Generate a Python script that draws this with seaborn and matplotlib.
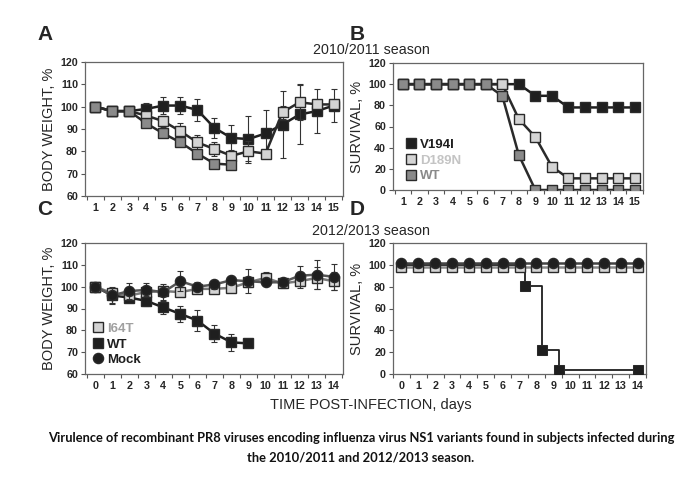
import matplotlib
matplotlib.use("Agg")
import matplotlib.pyplot as plt
import seaborn as sns
from matplotlib.lines import Line2D

# ---------------- data ----------------
days_a = list(range(1, 16))
bw_v194i = [100, 98, 98, 99, 100.5, 100.5, 98.5, 90.5, 86, 85.5, 88, 92, 96.5, 98, 100.5]
bw_v194i_err = [0.5, 1, 1, 2.5, 4, 4, 5, 4.5, 6, 10.5, 10.5, 15, 13, 10, 7.5]
bw_d189n = [100, 98, 98, 96, 93.5, 89, 84, 81, 78, 80, 79, 97.5, 102, 101, 101]
bw_d189n_err = [0.5, 1, 1, 2, 2.5, 3.5, 3.5, 3, 2.5, 4.5, 1.5, 3, 8, 2, 2]
days_a_wt = list(range(1, 10))
bw_wt_a = [100, 98, 98, 92.5, 88, 84, 79, 74.5, 74]
bw_wt_a_err = [0.5, 1, 1, 1.5, 1.5, 1.5, 1.5, 1.5, 1.5]

surv_v194i = [100, 100, 100, 100, 100, 100, 100, 100, 89, 89, 78, 78, 78, 78, 78]
surv_d189n = [100, 100, 100, 100, 100, 100, 100, 67, 50, 22, 11, 11, 11, 11, 11]
surv_wt_b = [100, 100, 100, 100, 100, 100, 89, 33, 0, 0, 0, 0, 0, 0, 0]

days_c = list(range(0, 15))
bw_i64t = [100, 97, 96, 97.5, 98, 97.5, 99, 99, 99.5, 102, 104, 101.5, 102.5, 104, 102.5]
bw_i64t_err = [1, 2, 2, 2, 2, 2, 2, 2, 2, 2, 2.5, 2, 3, 5, 4]
bw_mock = [100, 96, 98, 98.5, 97.5, 102.5, 100, 101, 103, 102.5, 102, 102, 105, 105.5, 104.5]
bw_mock_err = [1, 4, 3.5, 3, 3.5, 4.5, 2, 2, 2, 5.5, 1, 1.5, 4.5, 6.5, 6]
days_c_wt = list(range(0, 10))
bw_wt_c = [100, 96, 95, 93.5, 90.5, 87.5, 84.5, 78.5, 74.5, 74]
bw_wt_c_err = [1, 3.5, 2, 2.5, 3, 3.5, 5, 4, 4, 0]

surv_i64t_d = [98] * 15
surv_mock_d = [102] * 15
days_d_wt = [0, 1, 2, 3, 4, 5, 6, 7, 7.3, 8.33, 9.33, 14]
surv_wt_d = [100, 100, 100, 100, 100, 100, 100, 100, 81, 22, 4, 4]

# ---------------- style ----------------
sns.set_style("ticks")
plt.rcParams["font.family"] = ["Liberation Sans", "DejaVu Sans"]

BLACK = "#1f1f1f"
LIGHT = "#d4d4d4"
MID = "#8a8a8a"
EDGE = "#2a2a2a"

fig = plt.figure(figsize=(7.0, 4.92), dpi=100)
W, H = 700, 492


def add_axes(l, r, t, b):
    return fig.add_axes([l / W, 1 - b / H, (r - l) / W, (b - t) / H])


axA = add_axes(85, 343, 62, 196)
axB = add_axes(393, 643, 63, 190)
axC = add_axes(85, 343, 243, 374)
axD = add_axes(393, 646, 243, 374)


def series(ax, x, y, face, line, marker="s", err=None, z=3, lw=1.8, ms=7.3, **kw):
    if err is not None:
        ax.errorbar(x, y, yerr=err, fmt="none", ecolor="#333333", elinewidth=0.8,
                    capsize=2.5, capthick=0.8, zorder=z - 0.5)
    sns.lineplot(x=x, y=y, ax=ax, color=line, marker=marker, markersize=ms,
                 markerfacecolor=face, markeredgecolor=EDGE, markeredgewidth=1.0,
                 linewidth=lw, zorder=z, estimator=None, sort=False, **kw)


# Panel A
series(axA, days_a, bw_v194i, BLACK, BLACK, err=bw_v194i_err, z=3)
series(axA, days_a, bw_d189n, LIGHT, "#2a2a2a", err=bw_d189n_err, z=4)
series(axA, days_a_wt, bw_wt_a, MID, "#2a2a2a", err=bw_wt_a_err, z=5)

# Panel B
series(axB, days_a, surv_v194i, BLACK, BLACK, z=3)
series(axB, days_a, surv_d189n, LIGHT, "#2a2a2a", z=4)
series(axB, days_a, surv_wt_b, MID, "#2a2a2a", z=5)

# Panel C
series(axC, days_c_wt, bw_wt_c, BLACK, BLACK, err=bw_wt_c_err, z=3)
series(axC, days_c, bw_i64t, LIGHT, "#7a7a7a", err=bw_i64t_err, z=4)
series(axC, days_c, bw_mock, BLACK, "#555555", marker="o", err=bw_mock_err, z=5)

# Panel D
sns.lineplot(x=days_d_wt, y=surv_wt_d, ax=axD, color=BLACK, linewidth=1.3,
             drawstyle="steps-post", marker="s", markersize=7, markevery=list(range(8, 12)),
             markerfacecolor=BLACK, markeredgecolor=EDGE, estimator=None, sort=False, zorder=3)
series(axD, days_c, surv_i64t_d, LIGHT, "#8a8a8a", z=4)
series(axD, days_c, surv_mock_d, BLACK, "#444444", marker="o", z=5)

tick_font = dict(fontsize=7.7, fontweight="bold")


def style_axis(ax, xticks, xlim, ylim, yticks, ylabel):
    ax.set_xlim(*xlim)
    ax.set_ylim(*ylim)
    ax.set_xticks(xticks)
    ax.set_xticklabels([str(t) for t in xticks], **tick_font)
    ax.set_xticks([t + 0.5 for t in [xticks[0] - 1] + xticks], minor=True)
    ax.tick_params(axis="x", which="major", length=0, pad=5)
    ax.tick_params(axis="x", which="minor", length=3, width=0.8, color="#555555")
    ax.set_yticks(yticks)
    ax.set_yticklabels([str(t) for t in yticks], **tick_font)
    ax.tick_params(axis="y", length=3, width=0.8, color="#555555", pad=2)
    ax.set_ylabel(ylabel, fontsize=10.5, labelpad=3)
    ax.set_xlabel("")
    for s in ax.spines.values():
        s.set_color("#666666")
        s.set_linewidth(0.9)
    ax.grid(False)


style_axis(axA, days_a, (0.4, 15.55), (60, 120), list(range(60, 121, 10)), "BODY WEIGHT, %")
style_axis(axB, days_a, (0.4, 15.4), (0, 120), list(range(0, 121, 20)), "SURVIVAL, %")
style_axis(axC, days_c, (-0.6, 14.55), (60, 120), list(range(60, 121, 10)), "BODY WEIGHT, %")
style_axis(axD, days_c, (-0.5, 14.35), (0, 120), list(range(0, 121, 20)), "SURVIVAL, %")


def legend(ax, entries, loc, anchor):
    handles = [Line2D([], [], linestyle="none", marker=m, markersize=7.3, markerfacecolor=fc,
                      markeredgecolor=EDGE) for (_, m, fc, _) in entries]
    leg = ax.legend(handles, [e[0] for e in entries], loc=loc, bbox_to_anchor=anchor,
                    frameon=False, handlelength=0.8, handletextpad=0.3, labelspacing=0.25,
                    borderaxespad=0, prop=dict(weight="bold", size=9.5))
    for txt, e in zip(leg.get_texts(), entries):
        txt.set_color(e[3])


legend(axB, [("V194I", "s", BLACK, BLACK), ("D189N", "s", LIGHT, "#c4c4c4"),
             ("WT", "s", MID, "#8a8a8a")], "lower left", (0.03, 0.02))
legend(axC, [("I64T", "s", LIGHT, "#a0a0a0"), ("WT", "s", BLACK, BLACK),
             ("Mock", "o", BLACK, BLACK)], "lower left", (0.01, 0.02))

for letter, x, y in [("A", 45, 35), ("B", 357, 35), ("C", 45, 210), ("D", 357, 210)]:
    fig.text(x / W, 1 - y / H, letter, fontsize=15, fontweight="bold", ha="center", va="center")

fig.text(371 / W, 1 - 50 / H, "2010/2011 season", fontsize=10.3, ha="center", va="center")
fig.text(371 / W, 1 - 231 / H, "2012/2013 season", fontsize=10.3, ha="center", va="center")
fig.text(371 / W, 1 - 405 / H, "TIME POST-INFECTION, days", fontsize=10.5, ha="center", va="center")
cap_font = dict(fontsize=9.3, ha="center", va="center", fontweight="bold",
                family=["Lato", "DejaVu Sans"], color="#111111")
fig.text(361 / W, 1 - 438 / H,
         "Virulence of recombinant PR8 viruses encoding influenza virus NS1 variants found in subjects infected during",
         **cap_font)
fig.text(361 / W, 1 - 457 / H, "the 2010/2011 and 2012/2013 season.", **cap_font)

fig.savefig("out.png", dpi=100, facecolor="white")
